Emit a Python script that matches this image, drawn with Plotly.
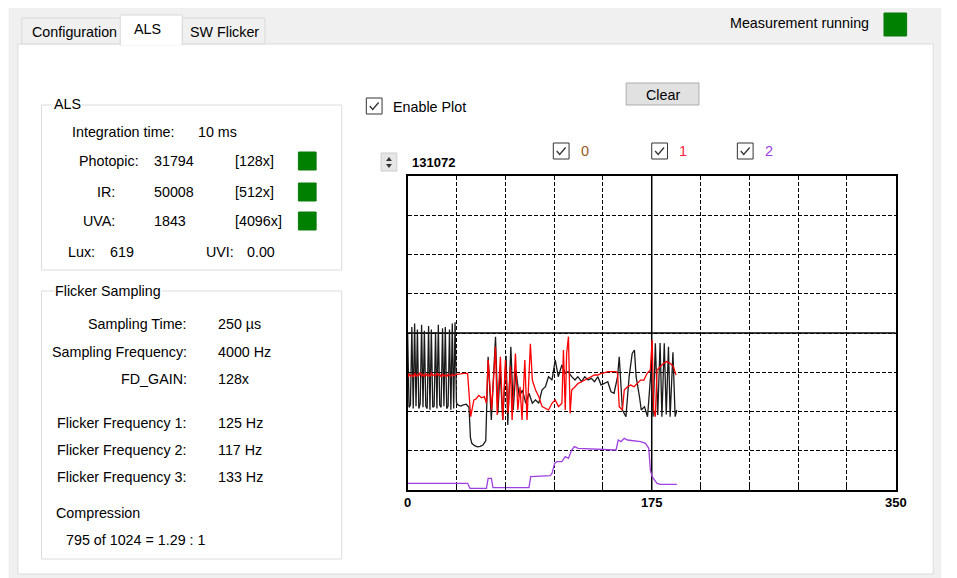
import plotly.graph_objects as go

# the page body adds an 8px margin; the figure is laid out in screen pixels shifted by it
OFF = 8
W, H = 957 - OFF, 578 - OFF

# ---------------- data ----------------
x_black = [0, 1, 2, 3, 4, 5, 6, 7, 8, 9, 10, 11, 12, 13, 14, 15, 16, 17, 18, 19, 20,
           21, 22, 23, 24, 25, 26, 27, 28, 29, 30, 31, 32, 33, 34, 35,
           36, 38, 40, 42, 44, 45, 46, 48, 50, 52, 54, 55, 56,
           57.7, 60, 63, 64.7, 66.3, 68.2, 70.6, 71.8, 74, 75.7, 77.6, 80, 82.3, 84.7,
           87, 89.4, 91.7, 94, 96.3, 98.8, 101, 103.5, 105.8, 108, 110.6, 113, 115,
           117.6, 120, 122, 124.7, 127, 129.4, 131.7, 134, 136.4, 138.7, 141, 143.5,
           145.8, 148, 150.5, 151.7, 154, 156.5, 158.8, 161, 162.6, 163.8, 166.2,
           167.5, 169.8, 172, 174.5, 176, 177.6, 179.3, 181, 182.3, 184, 185.4, 187,
           188.2, 190.2, 191.8, 193]
y_black = [66000, 34500, 35500, 68000, 34000, 69500, 35000, 67000, 34000, 36000, 69000,
           34500, 66500, 35000, 34000, 68500, 33500, 67000, 34500, 35000, 66000,
           34000, 69000, 35500, 34500, 67500, 35000, 68000, 34000, 35000, 67000,
           33500, 69500, 34000, 70000, 36500,
           35500, 35000, 35500, 35800, 34500, 22000, 19500, 18500, 18000, 18200, 18800, 19500, 20500,
           55600, 29200, 64000, 32000, 50000, 29200, 56000, 27100, 59800, 33400, 50100, 39000, 41700, 36200,
           40400, 36200, 37600, 36200, 41700, 43100, 47300, 45900, 54300, 47300, 52200, 48700, 49400,
           47300, 45900, 47300, 45200, 47300, 45900, 46600, 45200, 47300, 43800, 44500, 45200,
           41000, 40400, 47300, 55600, 33400, 30600, 47300, 57000, 58400, 47300, 39000,
           33400, 34800, 30600, 50000, 30600, 61200, 31300, 61400, 30600, 61200, 31500, 59800,
           30600, 57500, 30600, 33400]

x_red = [0, 1, 2, 3, 4, 5, 6, 7, 8, 9, 10, 11, 12, 13, 14, 15, 16, 17, 18, 19, 20,
         21, 22, 23, 24, 25, 26, 27, 28, 29, 30, 31, 32, 33, 34, 35, 38, 41, 43,
         45.2, 47.5, 49, 51, 53, 55, 56.5,
         57.7, 60.2, 63, 64.2, 66.5, 68.2, 70.1, 72, 73.7, 74.9, 77.3, 79, 80.6, 82,
         84, 85.6, 88, 89.4, 91.7, 94, 96.4, 98.8, 101, 103.5, 105.8, 108.2, 110.6,
         111.7, 113, 114, 115.3, 116.5, 117.6, 120, 122.3, 124.7, 127, 129.4, 131.7,
         134, 136.4, 138.7, 141, 143.5, 145.8, 149.4, 150.5, 151.7, 154, 155.3,
         157.6, 160, 162.3, 164.7, 167, 169.4, 171.7, 174, 175.3, 176.4, 177.6,
         178.8, 181.2, 183.5, 185.8, 188.2, 190.5, 192.4]
y_red = [47000, 48500, 47500, 48000, 47200, 48800, 47500, 48200, 47800, 49000, 47600,
         48300, 47300, 48600, 47700, 48200, 47400, 48900, 47800, 48100, 47500,
         48700, 47900, 48300, 47200, 48500, 47600, 48000, 47300, 48400, 47800,
         47500, 48200, 47700, 48000, 48300, 48500, 48800, 48600,
         30600, 37600, 38000, 39500, 38500, 39000, 36200,
         54300, 33400, 59800, 31300, 55600, 29200, 54300, 32000, 51500, 29200, 57000, 33400, 43100, 29200,
         54300, 29200, 61000, 45900, 41700, 39000, 34800, 34100, 33400, 36200, 37600, 34800, 36200,
         58400, 33400, 57000, 64000, 32000, 41700, 43100, 44500, 45200, 45900, 46600, 47300,
         48000, 48000, 48700, 48900, 49400, 49400, 49400, 48700, 34800, 33400, 41700,
         43100, 43800, 43100, 44500, 45900, 45900, 48700, 50100, 62600, 33400, 30600,
         50100, 51500, 52900, 53600, 52900, 51500, 48000]

x_purple = [0, 43, 44.7, 56.5, 57.7, 60, 61.2, 87, 88.2, 102.3, 103.5, 105.4, 107,
            110.6, 113, 115.3, 117.6, 119.5, 122.3, 148.2, 149.4, 151, 153, 155.3,
            157.6, 167, 170.5, 172.9, 174, 175.3, 178.8, 181.2, 193]
y_purple = [2780, 2780, 700, 700, 4870, 4870, 970, 1000, 5560, 5980, 6960, 11130, 11830,
            11830, 13910, 13220, 16700, 18090, 17390, 17000, 16700, 20870, 20170, 21570,
            20870, 20170, 19480, 17390, 8350, 5560, 2780, 2360, 2360]

x_ticks = [0, 35, 70, 105, 140, 175, 210, 245, 280, 315, 350]
x_tick_labels = ["0", "", "", "", "", "175", "", "", "", "", "350"]
y_ticks = [0, 16384, 32768, 49152, 65536, 81920, 98304, 114688, 131072]
y_max = 131072

als_labels = ["Photopic:", "IR:", "UVA:"]
als_values = ["31794", "50008", "1843"]
als_gains = ["[128x]", "[512x]", "[4096x]"]

flicker_labels = ["Sampling Time:", "Sampling Frequency:", "FD_GAIN:",
                  "Flicker Frequency 1:", "Flicker Frequency 2:", "Flicker Frequency 3:"]
flicker_values = ["250 µs", "4000 Hz", "128x", "125 Hz", "117 Hz", "133 Hz"]

channel_names = ["0", "1", "2"]
channel_colors = ["#9a5a1a", "#ff1a40", "#a040e0"]
line_colors = ["#1a1a1a", "#ff0000", "#a040e0"]

# ---------------- helpers (screen pixel -> paper) ----------------
def px(x):
    return (x - OFF) / W

def py(y):
    return 1 - (y - OFF) / H

FONT = "Arial"
FS = 14.3
shapes = []
annotations = []

def rect(x0, y0, x1, y1, fill=None, line="#d9d9d9", lw=1):
    shapes.append(dict(type="rect", xref="paper", yref="paper",
                       x0=px(x0), x1=px(x1), y0=py(y1), y1=py(y0),
                       fillcolor=fill if fill else "rgba(0,0,0,0)",
                       line=dict(color=line, width=lw), layer="below"))

def text(t, x, y, anchor="left", size=FS, color="#000000", bold=False, bg=None):
    if bold:
        t = "<b>" + t + "</b>"
    a = dict(text=t, x=px(x), y=py(y), xref="paper", yref="paper",
             xanchor=anchor, yanchor="middle", showarrow=False,
             font=dict(family=FONT, size=size, color=color))
    if bg:
        a["bgcolor"] = bg
        a["borderpad"] = 0
    annotations.append(a)

def checkbox(x0, y0, s=16):
    rect(x0, y0, x0 + s, y0 + s, fill="#ffffff", line="#333333", lw=1)
    path = "M {} {} L {} {} L {} {}".format(
        px(x0 + 3.5), py(y0 + 8), px(x0 + 6.5), py(y0 + 11.5), px(x0 + 12.5), py(y0 + 4.5))
    shapes.append(dict(type="path", xref="paper", yref="paper", path=path,
                       line=dict(color="#333333", width=1.3), layer="below"))

# ---------------- window chrome ----------------
rect(5, 5, 952, 580, fill="#f0f0f0", line="#f0f0f0")
rect(14, 44, 944, 574, fill="#ffffff", line="#dadada")
rect(18, 18, 119, 44, fill="#f0f0f0", line="#d9d9d9")
rect(181, 18, 265, 44, fill="#f0f0f0", line="#d9d9d9")
rect(118, 15, 181, 45, fill="#ffffff", line="#d9d9d9")
shapes.append(dict(type="line", xref="paper", yref="paper", x0=px(119), x1=px(180),
                   y0=py(44.5), y1=py(44.5), line=dict(color="#ffffff", width=2), layer="below"))
text("Configuration", 26, 32)
text("ALS", 130, 29)
text("SW Flicker", 187, 32)
text("Measurement running", 881, 23, anchor="right")
rect(894, 13, 917, 36, fill="#008000", line="#0a7a0a")

# ALS group
rect(38, 105, 343, 270, line="#dcdcdc")
text("ALS", 50, 104, bg="#ffffff")
text("Integration time:", 67, 132)
text("10 ms", 195, 132)
rows_y = [161, 192, 221]
for lab, val, gain, yy in zip(als_labels, als_values, als_gains, rows_y):
    text(lab, 139 if lab == "Photopic:" else 115, yy, anchor="right")
    text(val, 150, yy)
    text(gain, 233, yy)
    rect(299, yy - 9, 317, yy + 9, fill="#008000", line="#0a7a0a")
text("Lux:", 63, 252)
text("619", 106, 252)
text("UVI:", 203, 252)
text("0.00", 245, 252)

# Flicker group
rect(38, 291, 343, 559, line="#dcdcdc")
text("Flicker Sampling", 51, 291, bg="#ffffff")
fl_y = [324, 352, 379, 423, 450, 477]
for lab, val, yy in zip(flicker_labels, flicker_values, fl_y):
    text(lab, 188, yy, anchor="right")
    text(val, 215, yy)
text("Compression", 51, 513)
text("795 of 1024 = 1.29 : 1", 61, 540)

# Plot controls
checkbox(368, 98)
text("Enable Plot", 393, 107)
rect(632, 83, 706, 105, fill="#e1e1e1", line="#adadad")
text("Clear", 669, 95, anchor="center")
rect(383, 153, 399, 171, fill="#e6e6e6", line="#cccccc")
shapes.append(dict(type="path", xref="paper", yref="paper",
                   path="M {} {} L {} {} L {} {} Z".format(px(388), py(161), px(394), py(161), px(391), py(157)),
                   fillcolor="#333333", line=dict(width=0), layer="below"))
shapes.append(dict(type="path", xref="paper", yref="paper",
                   path="M {} {} L {} {} L {} {} Z".format(px(388), py(164), px(394), py(164), px(391), py(168)),
                   fillcolor="#333333", line=dict(width=0), layer="below"))
text(str(y_max), 412, 163, bold=True, size=13)
for name, col, bx in zip(channel_names, channel_colors, [558, 658, 745]):
    checkbox(bx, 143)
    text(name, bx + 26, 151, color=col, size=14.5)

# ---------------- chart ----------------
fig = go.Figure()
for xs, ys, col in [(x_black, y_black, line_colors[0]),
                    (x_red, y_red, line_colors[1]),
                    (x_purple, y_purple, line_colors[2])]:
    fig.add_trace(go.Scatter(x=xs, y=ys, mode="lines",
                             line=dict(color=col, width=1.3), hoverinfo="skip"))

# solid centre lines
shapes.append(dict(type="line", xref="x", yref="y", x0=175, x1=175, y0=0, y1=y_max,
                   line=dict(color="#000000", width=1.5), layer="between"))
shapes.append(dict(type="line", xref="x", yref="y", x0=0, x1=350, y0=65536, y1=65536,
                   line=dict(color="#000000", width=1.5), layer="between"))

fig.update_layout(
    width=W, height=H,
    margin=dict(l=0, r=0, t=0, b=0),
    paper_bgcolor="#ffffff", plot_bgcolor="#ffffff",
    showlegend=False, hovermode=False,
    shapes=shapes, annotations=annotations,
    xaxis=dict(domain=[px(410), px(906)], range=[0, 350],
               tickvals=x_ticks, ticktext=["<b>" + t + "</b>" if t else "" for t in x_tick_labels],
               tickfont=dict(family=FONT, size=13, color="#000000"),
               ticks="inside", ticklen=4, tickcolor="#000000", tickwidth=1,
               showgrid=True, gridcolor="#000000", gridwidth=1, griddash="4px,2px",
               showline=True, linecolor="#000000", linewidth=1.5, mirror=True,
               zeroline=False, fixedrange=True),
    yaxis=dict(domain=[py(490), py(176)], range=[0, y_max],
               tickvals=y_ticks, showticklabels=False, ticks="",
               showgrid=True, gridcolor="#000000", gridwidth=1, griddash="4px,2px",
               showline=True, linecolor="#000000", linewidth=1.5, mirror=True,
               zeroline=False, fixedrange=True),
)

fig.write_html("out.html")
